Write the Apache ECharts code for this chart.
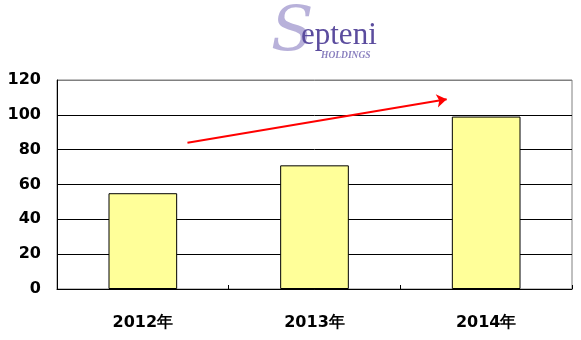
<!DOCTYPE html>
<html><head><meta charset="utf-8">
<script src="https://cdn.jsdelivr.net/npm/echarts@6/dist/echarts.min.js"></script>
<style>html,body{margin:0;padding:0;background:#fff}#c{width:581px;height:340px}</style>
</head><body><div id="c"></div>
<script>
const categories = ['2012年', '2013年', '2014年'];
const values = [55, 71, 99];
const yTicks = [0, 20, 40, 60, 80, 100, 120];
const arrowStart = [0.76, 84];
const arrowEnd = [2.27, 109];

const chart = echarts.init(document.getElementById('c'));
chart.setOption({
  animation: false,
  backgroundColor: '#fff',
  grid: { left: 57, right: 9, top: 80, bottom: 51, show: true, borderColor: '#808080', borderWidth: 1 },
  xAxis: [{
    type: 'category', data: categories,
    axisLine: { lineStyle: { color: '#000', width: 1 } },
    axisTick: { show: true, inside: true, length: 4, lineStyle: { color: '#000' } },
    axisLabel: { color: '#000', fontFamily: 'DejaVu Sans', fontWeight: 'bold', fontSize: 16, margin: 26 }
  }, {
    type: 'value', min: 0, max: 3, show: false
  }],
  yAxis: {
    type: 'value', min: yTicks[0], max: yTicks[yTicks.length - 1], interval: 20,
    axisLine: { show: true, lineStyle: { color: '#000' } },
    axisTick: { show: false },
    axisLabel: { color: '#000', fontFamily: 'DejaVu Sans', fontWeight: 'bold', fontSize: 16, margin: 16 },
    splitLine: { lineStyle: { color: ['#000', '#000', '#000', '#000', '#000', '#000', '#808080'], width: 1 } }
  },
  series: [{
    type: 'bar', data: values, barWidth: '40%',
    itemStyle: { color: '#FFFF99', borderColor: '#000', borderWidth: 1 }
  }, {
    type: 'line', xAxisIndex: 1, data: [], silent: true,
    markLine: {
      silent: true, symbol: ['none', 'arrow'], symbolSize: 10,
      label: { show: false },
      lineStyle: { color: '#FF0000', width: 2, type: 'solid' },
      data: [[{ coord: arrowStart }, { coord: arrowEnd }]]
    }
  }],
  graphic: [
    { type: 'text', left: 271, top: 3, z: 2, style: { text: 'S', font: 'italic 62px "DejaVu Serif", serif', fill: '#b8b1da' } },
    { type: 'text', left: 301, top: 20, z: 3, style: { text: 'epteni', font: '31px "Liberation Serif", serif', fill: '#5b4c9e' } },
    { type: 'text', left: 321, top: 51, z: 3, style: { text: 'HOLDINGS', font: 'italic bold 9.5px "Liberation Serif", serif', fill: '#8a80bf' } }
  ]
});
</script></body></html>
